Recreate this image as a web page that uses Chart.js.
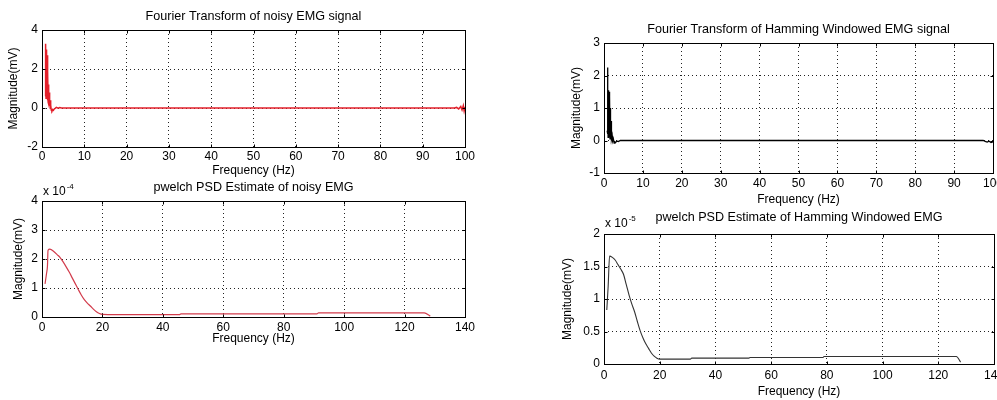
<!DOCTYPE html>
<html>
<head>
<meta charset="utf-8">
<script src="https://cdn.jsdelivr.net/npm/chart.js@4.4.0/dist/chart.umd.min.js"></script>
<style>
  html, body { margin: 0; padding: 0; background: #fff; width: 997px; height: 400px; overflow: hidden; }
  canvas { position: absolute; }
</style>
</head>
<body>
<canvas id="c1" width="490" height="185" style="left:0px;top:0px"></canvas>
<canvas id="c2" width="490" height="185" style="left:0px;top:170px"></canvas>
<canvas id="c3" width="480" height="210" style="left:540px;top:0px"></canvas>
<canvas id="c4" width="480" height="215" style="left:540px;top:185px"></canvas>
<script>
// ---------- DATA ----------
// Top-left: Fourier Transform of noisy EMG signal
const fftNoisyFreq = [0.75,0.85,0.95,1.0,1.05,1.1,1.15,1.2,1.25,1.3,1.35,1.4,1.45,1.5,1.55,1.6,1.65,1.7,1.8,1.9,2.0,2.1,2.2,2.35,2.5,2.7,2.9,3.1,3.4,3.8,4.2,4.6,5.0,97.5,98.0,98.5,99.0,99.3,99.6,99.8,100];
const fftNoisyMag  = [0.6,3.3,0.5,3.0,0.8,2.8,0.6,2.7,0.4,2.2,0.5,1.9,0.3,1.2,0.4,1.1,0.2,0.8,0.1,0.4,-0.05,0.15,-0.12,-0.15,-0.08,-0.12,-0.05,-0.02,0.03,-0.01,0.02,0,0,0,0.03,-0.05,0.08,-0.1,0.12,-0.15,0.05];

// Bottom-left: pwelch PSD Estimate of noisy EMG (x 10^-4)
const psdNoisyFreq = [1,1.5,1.8,2,2.6,4,5,6,7,8,9,10,11,12,13,14,15,16,17,18,19,20,30,45.5,46,60,91,91.5,110,126.5,128.5];
const psdNoisyMag  = [1.14,1.5,1.75,2.3,2.34,2.25,2.15,2.05,1.9,1.73,1.55,1.35,1.15,0.95,0.76,0.6,0.48,0.38,0.27,0.18,0.12,0.09,0.08,0.08,0.11,0.11,0.11,0.14,0.14,0.14,0.03];

// Top-right: Fourier Transform of Hamming Windowed EMG signal
const fftHamFreq = [0.8,0.9,0.95,1.0,1.05,1.1,1.15,1.2,1.25,1.3,1.35,1.4,1.45,1.5,1.55,1.6,1.65,1.7,1.75,1.8,1.85,1.9,2.0,2.1,2.2,2.4,2.6,2.8,3.0,3.3,3.7,4.2,97.5,98.0,98.5,99.0,99.5,100];
const fftHamMag  = [0.3,2.25,0.2,1.5,0.1,1.55,0.2,1.4,0.1,1.5,0.15,1.3,0.1,1.35,0.05,1.0,0.1,0.8,0.05,0.6,0.0,0.3,0.05,0.15,-0.02,0.05,-0.08,-0.04,-0.06,-0.02,-0.03,0,0,-0.03,-0.05,-0.02,-0.06,-0.04];

// Bottom-right: pwelch PSD Estimate of Hamming Windowed EMG (x 10^-5)
const psdHamFreq = [1,1.5,2,3,4,5,6,7,8,9,10,11,12,13,14,15,16,17,18,19,20,31,31.5,52,52.5,78.5,79,126.5,128];
const psdHamMag  = [0.83,1.2,1.66,1.64,1.6,1.53,1.46,1.38,1.22,1.06,0.92,0.8,0.65,0.51,0.4,0.31,0.24,0.17,0.12,0.09,0.075,0.075,0.09,0.09,0.1,0.1,0.115,0.115,0.03];

// Tick labels / axis definitions
const fftXTicks = [0,10,20,30,40,50,60,70,80,90,100];
const psdXTicks = [0,20,40,60,80,100,120,140];
const fftNoisyYTicks = [-2,0,2,4];
const psdNoisyYTicks = [0,1,2,3,4];
const fftHamYTicks = [-1,0,1,2,3];
const psdHamYTicks = [0,0.5,1,1.5,2];

const titles = [
  'Fourier Transform of noisy EMG signal',
  'pwelch PSD Estimate of noisy EMG',
  'Fourier Transform of Hamming Windowed EMG signal',
  'pwelch PSD Estimate of Hamming Windowed EMG'
];
const xLabel = 'Frequency (Hz)';
const yLabel = 'Magnitude(mV)';

// ---------- RENDERING ----------
const FONT = "'Liberation Sans', Arial, Helvetica, sans-serif";

function pts(xs, ys) { return xs.map((x, i) => ({ x: x, y: ys[i] })); }

const boxPlugin = {
  id: 'box',
  afterDraw(chart) {
    const a = chart.chartArea, ctx = chart.ctx;
    const o = chart.options.plugins.box || {};
    ctx.save();
    ctx.strokeStyle = '#000';
    ctx.lineWidth = 1;
    const L = Math.round(a.left) + 0.5, T = Math.round(a.top) + 0.5;
    const R = Math.round(a.right) + 0.5, B = Math.round(a.bottom) + 0.5;
    ctx.strokeRect(L, T, R - L, B - T);
    // inward tick marks (MATLAB style)
    const tl = 3;
    ctx.beginPath();
    chart.scales.x.ticks.forEach(t => {
      const px = Math.round(chart.scales.x.getPixelForValue(t.value)) + 0.5;
      ctx.moveTo(px, B); ctx.lineTo(px, B - tl);
      ctx.moveTo(px, T); ctx.lineTo(px, T + tl);
    });
    chart.scales.y.ticks.forEach(t => {
      const py = Math.round(chart.scales.y.getPixelForValue(t.value)) + 0.5;
      ctx.moveTo(L, py); ctx.lineTo(L + tl, py);
      ctx.moveTo(R, py); ctx.lineTo(R - tl, py);
    });
    ctx.stroke();
    // title centred on the plot area
    ctx.fillStyle = '#000';
    ctx.textAlign = 'center';
    ctx.textBaseline = 'middle';
    ctx.font = '12.6px ' + FONT;
    if (o.title) ctx.fillText(o.title, (a.left + a.right) / 2, a.top - o.titleOff);
    // exponent label
    if (o.exp) {
      ctx.textBaseline = 'alphabetic';
      ctx.textAlign = 'left';
      const base = a.top - o.expOff;
      ctx.font = '12px ' + FONT;
      ctx.fillText('x 10', a.left + 1, base);
      const w = ctx.measureText('x 10').width;
      ctx.font = '8px ' + FONT;
      ctx.fillText(o.exp, a.left + 2 + w, base - 6);
    }
    ctx.restore();
  }
};

function makeChart(id, cfg) {
  const ticksX = cfg.xTicks, ticksY = cfg.yTicks;
  new Chart(document.getElementById(id), {
    type: 'line',
    data: {
      datasets: [{
        data: pts(cfg.xs, cfg.ys),
        borderColor: cfg.color,
        borderWidth: cfg.lw,
        pointRadius: 0,
        fill: false,
        tension: 0,
        cubicInterpolationMode: cfg.smooth ? 'monotone' : 'default'
      }]
    },
    plugins: [boxPlugin],
    options: {
      responsive: false,
      animation: false,
      events: [],
      layout: { padding: { left: 0, right: cfg.padR, top: cfg.padT, bottom: 0 } },
      plugins: {
        legend: { display: false },
        tooltip: { enabled: false },
        title: { display: false },
        box: { exp: cfg.exp, expOff: cfg.expOff, title: cfg.title, titleOff: cfg.titleOff }
      },
      scales: {
        x: {
          type: 'linear',
          min: ticksX[0], max: ticksX[ticksX.length - 1],
          afterFit: s => { s.height = cfg.xH; },
          afterBuildTicks: s => { s.ticks = ticksX.map(v => ({ value: v })); },
          ticks: { color: '#000', font: { family: FONT, size: 12 }, padding: cfg.xPad, maxRotation: 0, autoSkip: false },
          grid: { color: '#222', lineWidth: 1, drawTicks: false },
          border: { display: false, dash: [1, 3] },
          title: { display: true, text: xLabel, color: '#000', font: { family: FONT, size: 12 }, padding: { top: 0, bottom: cfg.xtPb } }
        },
        y: {
          type: 'linear',
          min: ticksY[0], max: ticksY[ticksY.length - 1],
          afterFit: s => { s.width = cfg.yW; },
          afterBuildTicks: s => { s.ticks = ticksY.map(v => ({ value: v })); },
          ticks: { color: '#000', font: { family: FONT, size: 12 }, padding: 4, callback: v => String(v) },
          grid: { color: '#222', lineWidth: 1, drawTicks: false },
          border: { display: false, dash: [1, 3] },
          title: { display: true, text: yLabel, color: '#000', font: { family: FONT, size: 12 }, padding: { top: cfg.ytPt, bottom: 0 } }
        }
      }
    }
  });
}

makeChart('c1', { xs: fftNoisyFreq, ys: fftNoisyMag, color: '#e3202b', lw: 1.5, smooth: false,
  xTicks: fftXTicks, yTicks: fftNoisyYTicks, title: titles[0], titleOff: 13.5,
  padR: 25, padT: 30, xH: 38, xPad: 2, xtPb: 7.3, yW: 42, ytPt: 6.1 });

makeChart('c2', { xs: psdNoisyFreq, ys: psdNoisyMag, color: '#d23c4c', lw: 1.2, smooth: true, exp: '-4', expOff: 6.5,
  xTicks: psdXTicks, yTicks: psdNoisyYTicks, title: titles[1], titleOff: 13,
  padR: 25, padT: 31, xH: 38, xPad: 3, xtPb: 8.8, yW: 42, ytPt: 11 });

makeChart('c3', { xs: fftHamFreq, ys: fftHamMag, color: '#000', lw: 1.3, smooth: false,
  xTicks: fftXTicks, yTicks: fftHamYTicks, title: titles[2], titleOff: 13.7,
  padR: 27, padT: 43, xH: 37, xPad: 3, xtPb: 2.8, yW: 64, ytPt: 29.8 });

makeChart('c4', { xs: psdHamFreq, ys: psdHamMag, color: '#333', lw: 1.1, smooth: true, exp: '-5', expOff: 7,
  xTicks: psdXTicks, yTicks: psdHamYTicks, title: titles[3], titleOff: 16,
  padR: 26, padT: 49, xH: 36, xPad: 4, xtPb: 1.1, yW: 64, ytPt: 20.8 });
</script>
</body>
</html>
